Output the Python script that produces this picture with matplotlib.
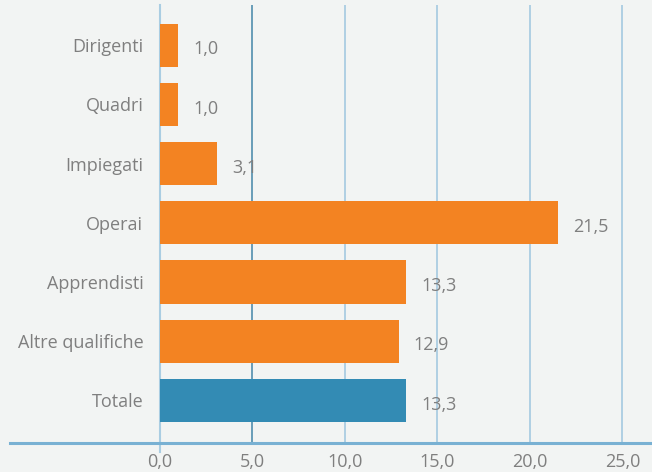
import matplotlib.pyplot as plt
from matplotlib.lines import Line2D

categories = ['Dirigenti', 'Quadri', 'Impiegati', 'Operai', 'Apprendisti',
              'Altre qualifiche', 'Totale']
values = [1.0, 1.0, 3.1, 21.5, 13.3, 12.9, 13.3]
value_labels = ['1,0', '1,0', '3,1', '21,5', '13,3', '12,9', '13,3']
x_ticks = [0, 5, 10, 15, 20, 25]
x_tick_labels = ['0,0', '5,0', '10,0', '15,0', '20,0', '25,0']

BG = '#f2f4f3'
ORANGE = '#f38322'
BLUE = '#338bb4'
GRAY = '#7f7f7f'

plt.rcParams['font.family'] = ['Open Sans', 'DejaVu Sans']

fig = plt.figure(figsize=(6.52, 4.72), dpi=100, facecolor=BG)
ax = fig.add_axes([160 / 652, 1 - 443 / 472, 1 - 160 / 652, 438 / 472])
ax.set_facecolor(BG)

colors = [ORANGE] * (len(categories) - 1) + [BLUE]
ypos = list(range(len(categories)))
ax.barh(ypos, values, height=0.73, color=colors, zorder=3)

# gridlines (the 5,0 one is darker in the original)
for t in x_ticks:
    c = '#5e96b3' if t == 5 else '#aacde2'
    ax.axvline(t, color=c, lw=1.3, zorder=1)
ax.axvline(0, ymin=-0.02, ymax=1, color='#aacde2', lw=1.5, zorder=1, clip_on=False)

for y, v, lab in zip(ypos, values, value_labels):
    ax.annotate(lab, (v, y), xytext=(11, -3), textcoords='offset points',
                ha='left', va='center', fontsize=13, color=GRAY)

ax.set_xlim(0, 26.6)
ax.set_ylim(6.72, -0.68)
ax.set_yticks(ypos)
ax.set_yticklabels(categories, fontsize=13, color=GRAY)
ax.set_xticks(x_ticks)
ax.set_xticklabels(x_tick_labels, fontsize=13, color=GRAY)
ax.tick_params(axis='both', length=0)
ax.tick_params(axis='x', pad=7)
ax.tick_params(axis='y', pad=12)
for s in ax.spines.values():
    s.set_visible(False)

# bottom axis line running out to the left edge
fig.add_artist(Line2D([10 / 652, 1], [1 - 443 / 472] * 2, color='#79b1d3', lw=2.2))

fig.savefig('out.png', dpi=100, facecolor=BG)
